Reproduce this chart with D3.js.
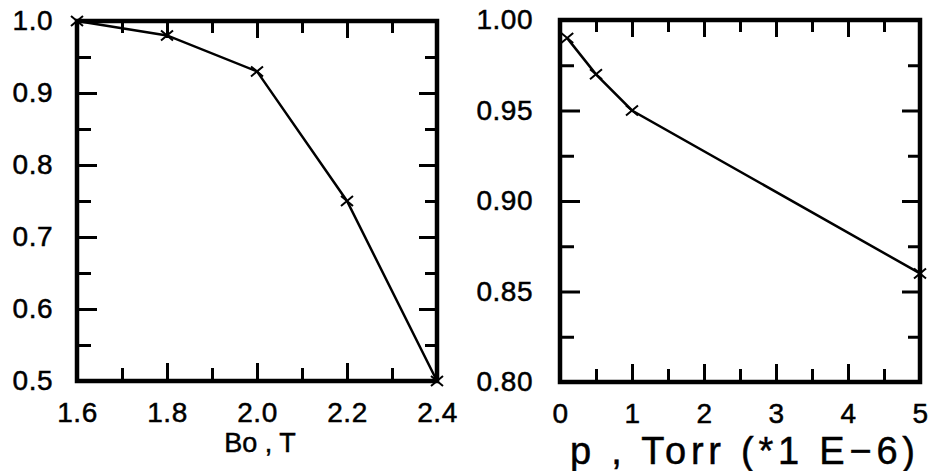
<!DOCTYPE html>
<html>
<head>
  <meta charset="utf-8">
  <title>Bo and pressure dependence</title>
  <script src="https://cdn.jsdelivr.net/npm/d3@7"></script>
  <style>
    html, body { margin: 0; padding: 0; background: #fff; overflow: hidden; }
    svg { display: block; font-family: "Liberation Sans", Arial, sans-serif; }
    text { fill: #000; stroke: #000; stroke-width: 0.5px; }
  </style>
</head>
<body>
<svg width="931" height="471"></svg>
<script>
// left panel: Bo, T
const bField = [1.6, 1.8, 2.0, 2.2, 2.4];
const bRatio = [1.0, 0.98, 0.93, 0.75, 0.5];
const bLabels = [1.6, 1.8, 2.0, 2.2, 2.4];
const bMajor = [1.8, 2.0, 2.2];
const bMinor = [1.7, 1.9, 2.1, 2.3];
const bYLabels = [0.5, 0.6, 0.7, 0.8, 0.9, 1.0];
const bYMajor = [0.6, 0.7, 0.8, 0.9];
const bYMinor = [0.55, 0.65, 0.75, 0.85, 0.95];

// right panel: p, Torr (*1 E-6)
const pressure = [0.1, 0.5, 1, 5];
const pRatio = [0.99, 0.97, 0.95, 0.86];
const pLabels = [0, 1, 2, 3, 4, 5];
const pMajor = [1, 2, 3, 4];
const pMinor = [0.5, 1.5, 2.5, 3.5, 4.5];
const pYLabels = [0.80, 0.85, 0.90, 0.95, 1.00];
const pYMajor = [0.85, 0.90, 0.95];
const pYMinor = [0.825, 0.875, 0.925, 0.975];

const svg = d3.select("svg");

function panel(opt) {
  const x = d3.scaleLinear().domain(opt.xDomain).range([opt.left, opt.right]);
  const y = d3.scaleLinear().domain(opt.yDomain).range([opt.bottom, opt.top]);
  const g = svg.append("g");

  // inward ticks on all four sides
  const tickSets = [
    [d3.axisRight(y), `translate(${opt.left},0)`, opt.yMajor, 20],
    [d3.axisRight(y), `translate(${opt.left},0)`, opt.yMinor, 14],
    [d3.axisLeft(y), `translate(${opt.right},0)`, opt.yMajor, 18],
    [d3.axisLeft(y), `translate(${opt.right},0)`, opt.yMinor, 12],
    [d3.axisTop(x), `translate(0,${opt.bottom})`, opt.xMajor, 18],
    [d3.axisTop(x), `translate(0,${opt.bottom})`, opt.xMinor, 13],
    [d3.axisBottom(x), `translate(0,${opt.top})`, opt.xMajor, 17],
    [d3.axisBottom(x), `translate(0,${opt.top})`, opt.xMinor, 12]
  ];
  tickSets.forEach(([axis, tr, vals, size]) => {
    const a = g.append("g").attr("transform", tr)
      .call(axis.tickValues(vals).tickSize(size).tickFormat(""));
    a.select(".domain").remove();
    a.selectAll("line").attr("stroke", "#000").attr("stroke-width", 3);
  });

  // tick labels
  const yl = g.append("g").attr("transform", `translate(${opt.left},0)`)
    .call(d3.axisLeft(y).tickValues(opt.yLabels).tickSize(0).tickPadding(opt.yPad)
      .tickFormat(d3.format(opt.yFmt)));
  const xl = g.append("g").attr("transform", `translate(0,${opt.bottom})`)
    .call(d3.axisBottom(x).tickValues(opt.xLabels).tickSize(0).tickPadding(21)
      .tickFormat(d3.format(opt.xFmt)));
  [yl, xl].forEach(a => {
    a.select(".domain").remove();
    a.attr("font-size", null).attr("font-family", null);
    a.selectAll("text").attr("font-size", 28).attr("letter-spacing", 0.5);
  });

  // data line and x markers
  const pts = opt.xs.map((v, i) => [x(v), y(opt.ys[i])]);
  g.append("path")
    .attr("d", d3.line()(pts))
    .attr("fill", "none").attr("stroke", "#000").attr("stroke-width", 2.5);
  g.selectAll(".mk").data(pts).enter().append("path")
    .attr("d", d => `M${d[0] - 6},${d[1] - 5}L${d[0] + 6},${d[1] + 5}M${d[0] - 6},${d[1] + 5}L${d[0] + 6},${d[1] - 5}`)
    .attr("stroke", "#000").attr("stroke-width", 2);

  // frame
  g.append("rect")
    .attr("x", opt.left).attr("y", opt.top)
    .attr("width", opt.right - opt.left).attr("height", opt.bottom - opt.top)
    .attr("fill", "none").attr("stroke", "#000").attr("stroke-width", 4.5);
  return g;
}

panel({
  left: 77, right: 437, top: 21, bottom: 381,
  xDomain: [1.6, 2.4], yDomain: [0.5, 1.0],
  xs: bField, ys: bRatio, yPad: 24,
  xLabels: bLabels, xMajor: bMajor, xMinor: bMinor, xFmt: ".1f",
  yLabels: bYLabels, yMajor: bYMajor, yMinor: bYMinor, yFmt: ".1f"
});

panel({
  left: 560, right: 920, top: 20, bottom: 382,
  xDomain: [0, 5], yDomain: [0.8, 1.0],
  xs: pressure, ys: pRatio, yPad: 27,
  xLabels: pLabels, xMajor: pMajor, xMinor: pMinor, xFmt: "d",
  yLabels: pYLabels, yMajor: pYMajor, yMinor: pYMinor, yFmt: ".2f"
});

// axis titles
svg.append("text")
  .attr("x", 260).attr("y", 452)
  .attr("text-anchor", "middle")
  .attr("font-size", 27)
  .text("Bo , T");

svg.append("text")
  .attr("x", 570).attr("y", 464)
  .attr("font-size", 38)
  .attr("textLength", 345).attr("lengthAdjust", "spacing")
  .text("p , Torr   (*1 E\u22126)");
</script>
</body>
</html>
